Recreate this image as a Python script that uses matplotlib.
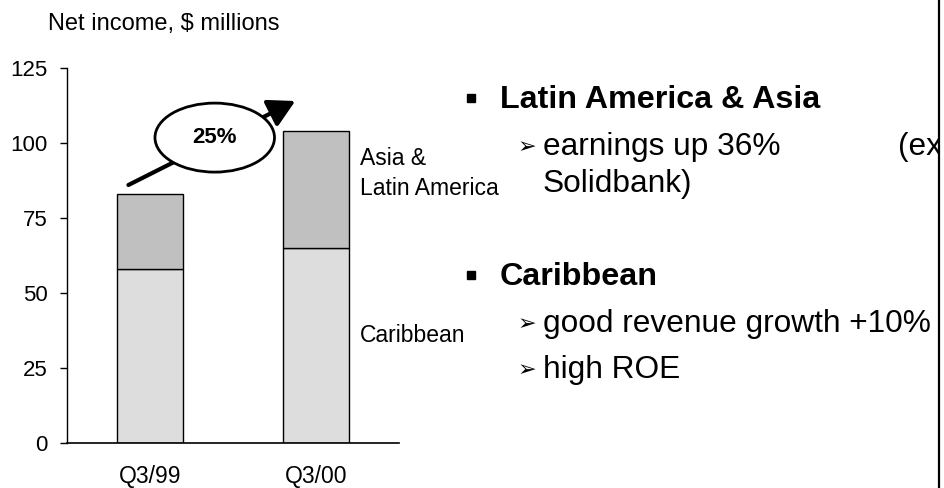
import matplotlib
matplotlib.use("Agg")
import matplotlib.pyplot as plt
from matplotlib.patches import Ellipse, FancyArrowPatch, Rectangle
from matplotlib.lines import Line2D

plt.rcParams['font.family'] = ['Liberation Sans', 'DejaVu Sans']

# Net income by region, $ millions
quarters = ['Q3/99', 'Q3/00']
caribbean = [58, 65]
asia_latam = [25, 39]
y_ticks = [0, 25, 50, 75, 100, 125]

totals = [c + a for c, a in zip(caribbean, asia_latam)]
growth = round((totals[1] / totals[0] - 1) * 100)

W, H = 944, 488
fig = plt.figure(figsize=(W / 100, H / 100), dpi=100)
ax = fig.add_axes([67 / W, 1 - 443 / H, 332 / W, 375 / H])

x = range(len(quarters))
ax.bar(x, caribbean, width=0.4, color='#dddddd', edgecolor='black', linewidth=1)
ax.bar(x, asia_latam, width=0.4, bottom=caribbean, color='#c0c0c0',
       edgecolor='black', linewidth=1)

ax.set_xlim(-0.5, 1.5)
ax.set_ylim(0, 125)
ax.set_yticks(y_ticks)
ax.set_xticks(list(x))
ax.set_xticklabels(quarters)
ax.tick_params(axis='y', direction='out', length=5, width=1, pad=9, labelsize=16)
ax.tick_params(axis='x', length=0, pad=16, labelsize=16.5)
for side in ('top', 'right'):
    ax.spines[side].set_visible(False)
ax.spines['left'].set_linewidth(1)
ax.spines['bottom'].set_linewidth(1.2)

# growth arrow with the percentage bubble over it
arrow = FancyArrowPatch((-0.13, totals[0] + 3), (0.875, totals[1] + 10),
                        arrowstyle='-|>,head_length=10,head_width=5.5',
                        lw=3, color='black', mutation_scale=1.6,
                        shrinkA=0, shrinkB=0, zorder=4)
ax.add_patch(arrow)
ax.add_patch(Ellipse((0.39, 101.8), 0.72, 23, facecolor='white',
                     edgecolor='black', lw=2, zorder=5))
ax.text(0.39, 101.8, f'{growth}%', ha='center', va='center',
        fontsize=16, fontweight='bold', zorder=6)

# segment labels to the right of the second bar
lab = dict(xycoords='data', textcoords='offset points', fontsize=16.5,
           ha='left', va='baseline')
ax.annotate('Asia &', xy=(1.2, 92.7), xytext=(8, 0), **lab)
ax.annotate('Latin America', xy=(1.2, 82.7), xytext=(8, 0), **lab)
ax.annotate('Caribbean', xy=(1.2, 33.7), xytext=(8, 0), **lab)

fig.text(48 / W, 1 - 30 / H, 'Net income, $ millions', fontsize=17,
         ha='left', va='baseline')


def px(xp, yp):
    return xp / W, 1 - yp / H


# bullet points
bullet_head = dict(fontsize=23.2, fontweight='bold', ha='left', va='baseline')
body = dict(fontsize=22.8, ha='left', va='baseline')
arrow_mark = dict(fontsize=16, ha='left', va='baseline',
                  family=['DejaVu Sans'])

for yb, head in [(108, 'Latin America & Asia'), (285, 'Caribbean')]:
    fig.add_artist(Line2D([471 / W], [1 - (yb - 10) / H], marker='s',
                          ms=6, color='black', transform=fig.transFigure))
    fig.text(*px(500, yb), head, **bullet_head)

sub_items = [(155, 'earnings up 36%'), (332, 'good revenue growth +10%'),
             (378, 'high ROE')]
for yb, line in sub_items:
    fig.text(*px(518, yb - 2), '\u27a2', **arrow_mark)
    fig.text(*px(543, yb), line, **body)
fig.text(*px(543, 192), 'Solidbank)', **body)
fig.text(*px(898, 155), '(ex', **body)

# cover the overflow past the frame and draw the frame edge
fig.add_artist(Rectangle((940 / W, 0), 4 / W, 1, facecolor='white',
                         edgecolor='none', transform=fig.transFigure, zorder=10))
fig.add_artist(Line2D([939 / W, 939 / W], [0, 1], color='black', lw=1.6,
                      transform=fig.transFigure, zorder=11))

fig.savefig('out.png', dpi=100)
